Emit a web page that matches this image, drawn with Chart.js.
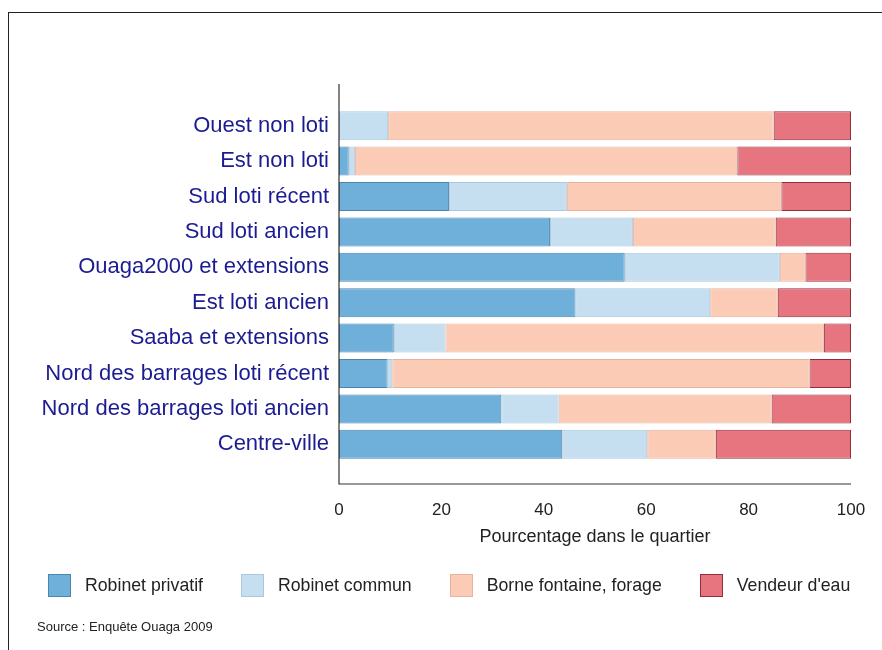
<!DOCTYPE html>
<html>
<head>
<meta charset="utf-8">
<script src="https://cdn.jsdelivr.net/npm/chart.js@4"></script>
<style>
  html, body { margin: 0; padding: 0; background: #fff; }
  #wrap { position: relative; width: 882px; height: 650px; overflow: hidden; }
  #frame { position: absolute; left: 8px; top: 12px; right: -10px; bottom: -10px;
           border-left: 1.5px solid #222; border-top: 1.5px solid #222; }
  #legend { position: absolute; left: 48px; top: 574px; display: flex; gap: 38px;
            font-family: "Liberation Sans", Arial, sans-serif; font-size: 17.7px; color: #222; }
  #legend .item { display: flex; align-items: center; }
  #legend .box { width: 23px; height: 23px; margin-right: 14px; box-sizing: border-box; border: 1px solid; }
  #source { position: absolute; left: 37px; top: 619px;
            font-family: "Liberation Sans", Arial, sans-serif; font-size: 13px; color: #222; }
</style>
</head>
<body>
<div id="wrap">
  <canvas id="myChart" width="882" height="650"></canvas>
  <div id="frame"></div>
  <div id="legend"></div>
  <div id="source">Source : Enquête Ouaga 2009</div>
</div>
<script>
const quartiers = [
    'Ouest non loti',
    'Est non loti',
    'Sud loti récent',
    'Sud loti ancien',
    'Ouaga2000 et extensions',
    'Est loti ancien',
    'Saaba et extensions',
    'Nord des barrages loti récent',
    'Nord des barrages loti ancien',
    'Centre-ville'
];

const seriesNames = ['Robinet privatif', 'Robinet commun', 'Borne fontaine, forage', "Vendeur d'eau"];

const robinetPrivatif = [0, 1.9, 21.5, 41.2, 55.8, 46.2, 10.7, 9.5, 31.7, 43.6];
const robinetCommun   = [9.6, 1.2, 23.0, 16.2, 30.3, 26.3, 10.1, 0.9, 11.2, 16.6];
const borneFontaine   = [75.3, 74.7, 41.9, 27.9, 5.0, 13.2, 73.9, 81.5, 41.6, 13.4];
const vendeurEau      = [15.1, 22.2, 13.6, 14.7, 8.9, 14.3, 5.3, 8.1, 15.5, 26.4];

const xTicks = [0, 20, 40, 60, 80, 100];

const fills   = ['#6fb0db', '#c5def0', '#fbcbb6', '#e77580'];
const borders = ['#4d84ad', '#a9c7de', '#e6b39f', '#8e2f3b'];

const values = [robinetPrivatif, robinetCommun, borneFontaine, vendeurEau];

const datasets = seriesNames.map((name, i) => ({
    label: name,
    data: values[i],
    backgroundColor: fills[i],
    borderColor: borders[i],
    borderWidth: 1,
    borderSkipped: false,
    categoryPercentage: 1,
    barPercentage: 0.82
}));

// axe en L qui deborde un peu de la zone des barres
const axisLines = {
    id: 'axisLines',
    afterDraw(chart) {
        const {ctx, chartArea} = chart;
        const y0 = chartArea.top - 24;
        const y1 = chartArea.bottom + 22;
        ctx.save();
        ctx.strokeStyle = '#333';
        ctx.lineWidth = 1.2;
        ctx.beginPath();
        ctx.moveTo(chartArea.left, y0);
        ctx.lineTo(chartArea.left, y1);
        ctx.lineTo(chartArea.right, y1);
        ctx.stroke();
        ctx.restore();
    }
};

const config = {
    type: 'bar',
    data: { labels: quartiers, datasets: datasets },
    options: {
        indexAxis: 'y',
        responsive: false,
        animation: false,
        layout: { padding: { top: 108, bottom: 102, left: 0, right: 31 } },
        plugins: {
            legend: { display: false },
            tooltip: { enabled: false }
        },
        scales: {
            x: {
                stacked: true,
                min: 0,
                max: 100,
                afterBuildTicks: (scale) => { scale.ticks = xTicks.map(v => ({ value: v })); },
                // le padding des ticks ne doit pas retrecir la zone a droite
                afterFit: (scale) => { scale.paddingLeft = 0; scale.paddingRight = 0; },
                grid: { display: false, drawTicks: false },
                border: { display: false },
                ticks: {
                    padding: 38,
                    color: '#222',
                    font: { family: 'Liberation Sans', size: 17 }
                },
                title: {
                    display: true,
                    text: 'Pourcentage dans le quartier',
                    color: '#222',
                    padding: { top: -32, bottom: 0 },
                    font: { family: 'Liberation Sans', size: 18 }
                }
            },
            y: {
                stacked: true,
                afterFit: (scale) => { scale.width = 339; },
                grid: { display: false, drawTicks: false },
                border: { display: false },
                ticks: {
                    padding: 10,
                    color: '#1c1c92',
                    font: { family: 'Liberation Sans', size: 22 }
                }
            }
        }
    },
    plugins: [axisLines]
};

const myChart = new Chart(document.getElementById('myChart'), config);

// legende en HTML construite depuis les series
const legendNode = document.getElementById('legend');
seriesNames.forEach((name, i) => {
    const item = document.createElement('div');
    item.className = 'item';
    const box = document.createElement('span');
    box.className = 'box';
    box.style.background = fills[i];
    box.style.borderColor = borders[i];
    const txt = document.createElement('span');
    txt.textContent = name;
    item.append(box, txt);
    legendNode.append(item);
});
</script>
</body>
</html>
